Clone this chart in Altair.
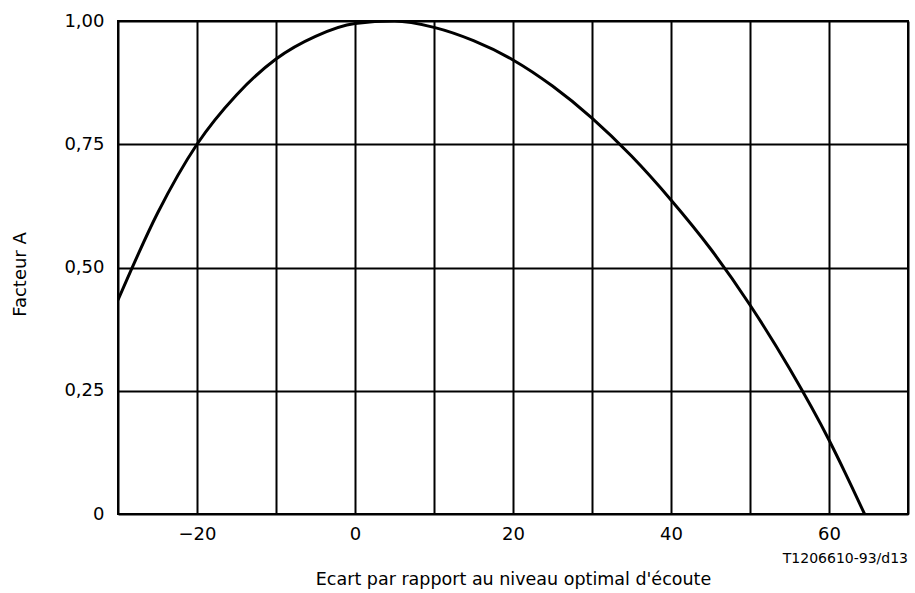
import altair as alt
import pandas as pd

# Curve
ecart = [-30, -25, -20, -15, -10, -5, 0, 5, 10, 15, 20, 25, 30, 35, 40, 45, 50, 55, 60, 62, 64.5]
facteur = [0.434, 0.610, 0.75, 0.850, 0.923, 0.969, 0.995, 1.0, 0.987, 0.960, 0.921, 0.868,
           0.803, 0.726, 0.637, 0.538, 0.424, 0.295, 0.150, 0.085, 0.0]

x_ticks = [-30, -20, -10, 0, 10, 20, 30, 40, 50, 60, 70]
y_ticks = [0, 0.25, 0.5, 0.75, 1.0]

x_title = "Ecart par rapport au niveau optimal d'écoute"
y_title = "Facteur A"
ref_code = "T1206610-93/d13"

FONT = "DejaVu Sans"

df = pd.DataFrame({"x": ecart, "y": facteur})

x_axis = alt.Axis(
    values=x_ticks,
    grid=True,
    ticks=False,
    tickSize=0,
    domain=False,
    labelExpr="datum.value % 20 == 0 ? replace(format(datum.value, 'd'), '-', '–') : ''",
    labelFont=FONT,
    labelFontSize=18,
    labelColor="black",
    labelPadding=25,
    labelBaseline="alphabetic",
    title=x_title,
    titleFont=FONT,
    titleFontSize=17.5,
    titleFontWeight="normal",
    titleColor="black",
    titleX=395,
    titleY=70,
    titleAlign="center",
    titleBaseline="alphabetic",
)

y_axis = alt.Axis(
    values=y_ticks,
    grid=True,
    ticks=False,
    tickSize=0,
    domain=False,
    labelExpr="datum.value == 0 ? '0' : replace(format(datum.value, '.2f'), '.', ',')",
    labelFont=FONT,
    labelFontSize=18,
    labelColor="black",
    labelPadding=14,
    title=y_title,
    titleFont=FONT,
    titleFontSize=18,
    titleFontWeight="normal",
    titleColor="black",
    titleX=-93,
    titleY=253,
    titleAngle=270,
    titleAlign="center",
    titleBaseline="alphabetic",
)

line = alt.Chart(df).mark_line(
    color="black", strokeWidth=3, interpolate="monotone", clip=True
).encode(
    x=alt.X("x:Q", scale=alt.Scale(domain=[-30, 70], nice=False, zero=False), axis=x_axis),
    y=alt.Y("y:Q", scale=alt.Scale(domain=[0, 1], nice=False), axis=y_axis),
)

code = alt.Chart(pd.DataFrame({"t": [ref_code]})).mark_text(
    align="right", baseline="middle", font=FONT, fontSize=14, color="black"
).encode(
    text="t:N",
    x=alt.value(790),
    y=alt.value(538),
)

chart = alt.layer(line, code).properties(
    width=790,
    height=493,
    autosize=alt.AutoSizeParams(type="none"),
    padding={"left": 118, "top": 21, "right": 7, "bottom": 79},
    background="white",
).configure_view(
    stroke="black", strokeWidth=2
).configure_axis(
    gridColor="black", gridWidth=2, gridOpacity=1
)

chart.save("out.html", embed_options={"renderer": "svg", "actions": False})
